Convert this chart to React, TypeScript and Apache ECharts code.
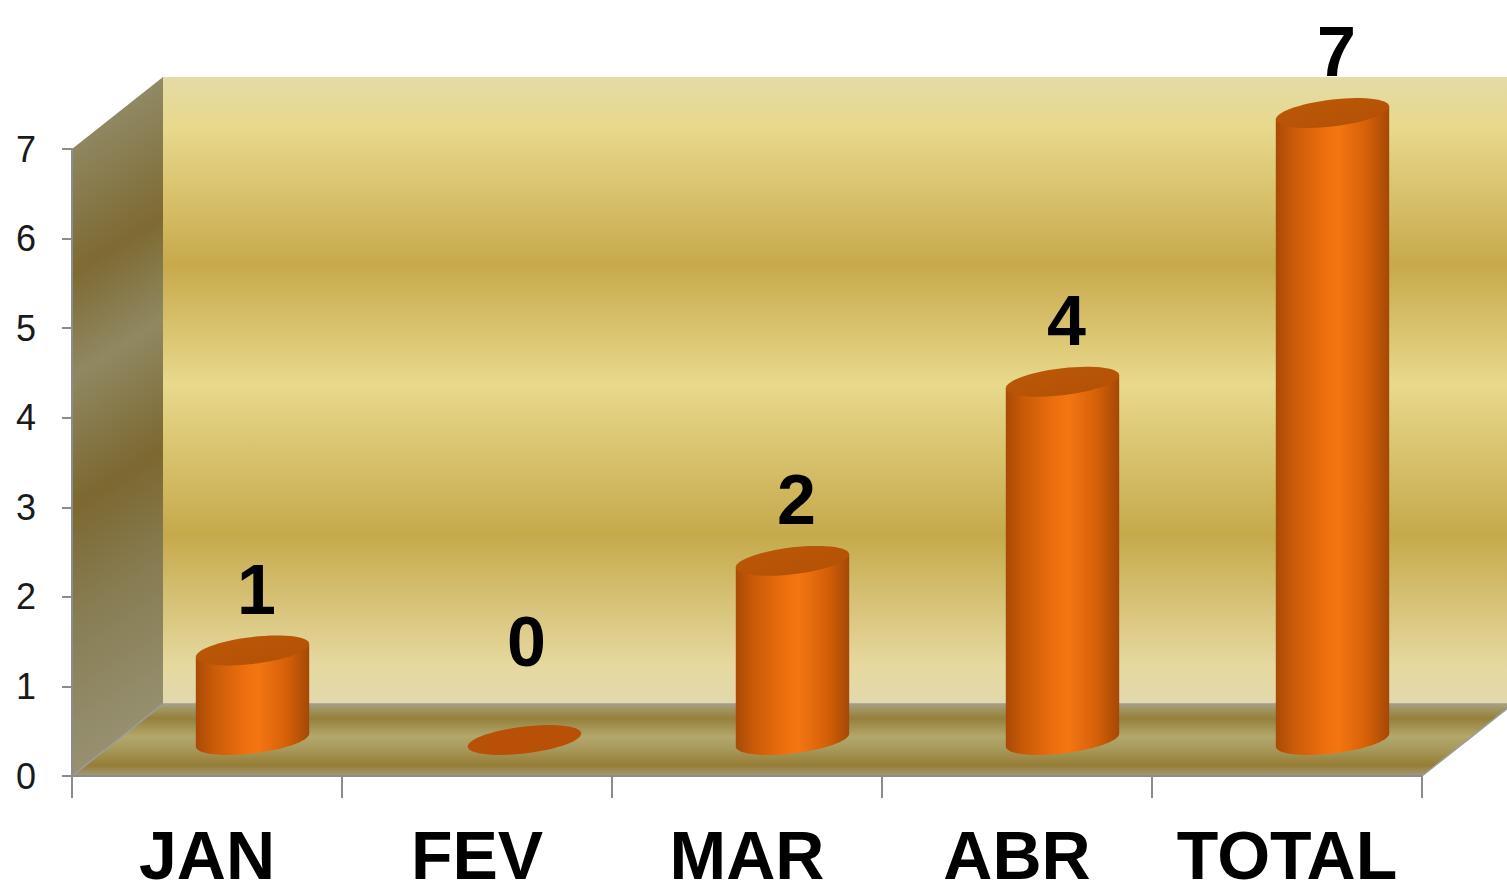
import React, { useEffect, useRef } from "react";
import * as echarts from "echarts";

const categories: string[] = ["JAN", "FEV", "MAR", "ABR", "TOTAL"];
const values: number[] = [1, 0, 2, 4, 7];
const yMin = 0;
const yMax = 7;
const yInterval = 1;

const DX = 91;
const DY = -72;

function ellipsePts(cx: number, cy: number, a: number, b: number, k: number, t0: number, t1: number, n: number) {
  const pts: number[][] = [];
  for (let i = 0; i <= n; i++) {
    const t = t0 + ((t1 - t0) * i) / n;
    const c = Math.cos(t);
    pts.push([cx + a * c, cy + b * Math.sin(t) - k * a * c]);
  }
  return pts;
}

export default function App() {
  const ref = useRef<HTMLDivElement>(null);
  useEffect(() => {
    if (!ref.current) return;
    document.body.style.margin = "0";
    document.body.style.overflow = "hidden";
    const chart = echarts.init(ref.current, undefined, { renderer: "svg" });
    const LG = echarts.graphic.LinearGradient;

    const wallsRender = (params: any, api: any) => {
      const cs = params.coordSys;
      const x0 = cs.x;
      const x1 = cs.x + cs.width;
      const yb = api.coord([0, yMin])[1];
      const yt = api.coord([0, yMax])[1];
      const backGrad = new LG(0, 0, 0, 1, [
        { offset: 0, color: "#e4daa6" },
        { offset: 0.08, color: "#e8d98c" },
        { offset: 0.3, color: "#c8a94c" },
        { offset: 0.49, color: "#e8d98c" },
        { offset: 0.73, color: "#c6a94b" },
        { offset: 0.94, color: "#e6d9a0" },
        { offset: 1, color: "#e2d8ac" },
      ]);
      const sideGrad = {
        type: "linear",
        x: 163,
        y: 75,
        x2: 451,
        y2: 544,
        global: true,
        colorStops: [
          { offset: 0, color: "#918a66" },
          { offset: 0.22, color: "#7e6a32" },
          { offset: 0.38, color: "#908862" },
          { offset: 0.58, color: "#7c6830" },
          { offset: 0.75, color: "#877c52" },
          { offset: 0.95, color: "#948d6c" },
          { offset: 1, color: "#989070" },
        ],
      };
      const floorGrad = new LG(0, 0, 0, 1, [
        { offset: 0, color: "#a9a078" },
        { offset: 0.2, color: "#95803c" },
        { offset: 0.45, color: "#b3a76c" },
        { offset: 0.62, color: "#a89a5c" },
        { offset: 0.85, color: "#967d36" },
        { offset: 1, color: "#a39a78" },
      ]);
      return {
        type: "group",
        children: [
          {
            type: "rect",
            shape: { x: x0 + DX, y: yt + DY, width: x1 - x0, height: yb - yt },
            style: { fill: backGrad },
          },
          {
            type: "polygon",
            shape: { points: [[x0, yt], [x0 + DX, yt + DY], [x0 + DX, yb + DY], [x0, yb]] },
            style: { fill: sideGrad },
          },
          {
            type: "polygon",
            shape: { points: [[x0, yb], [x0 + DX, yb + DY], [x1 + DX, yb + DY], [x1, yb]] },
            style: { fill: floorGrad, stroke: "#9c9c9c", lineWidth: 1.5 },
          },
        ],
      };
    };

    const cylRender = (params: any, api: any) => {
      const idx = api.value(0);
      const v = api.value(1);
      const base = api.coord([idx, yMin]);
      const top = api.coord([idx, v]);
      const band = api.size([1, 0])[0];
      const a = band * 0.21;
      const b = 13.5;
      const k = 0.114;
      const cx = base[0] + DX / 2;
      const by = base[1] + DY / 2;
      const ty = top[1] + DY / 2;
      const floorBack = base[1] + DY;
      const children: any[] = [];
      if (v > 0) {
        const body: number[][] = [];
        body.push([cx - a, ty + k * a]);
        body.push([cx - a, by + k * a]);
        ellipsePts(cx, by, a, b, k, Math.PI, 0, 40).forEach((p) => body.push(p));
        body.push([cx + a, ty - k * a]);
        children.push({
          type: "polygon",
          shape: { points: body },
          style: {
            fill: new LG(0, 0, 1, 0, [
              { offset: 0, color: "#a84a06" },
              { offset: 0.15, color: "#c85a08" },
              { offset: 0.42, color: "#ec6e0e" },
              { offset: 0.55, color: "#f37612" },
              { offset: 0.8, color: "#d66008" },
              { offset: 1, color: "#a44806" },
            ]),
          },
        });
        children.push({
          type: "polygon",
          shape: { points: ellipsePts(cx, ty, a, b, k, 0, Math.PI * 2, 60) },
          style: {
            fill: new LG(0, 0, 1, 1, [
              { offset: 0, color: "#bd5808" },
              { offset: 1, color: "#b25005" },
            ]),
          },
        });
      } else {
        children.push({
          type: "polygon",
          shape: { points: ellipsePts(cx + 2, by, a, b, k, 0, Math.PI * 2, 60) },
          style: { fill: "#b85008" },
        });
      }
      const fs = 70;
      const baseline = Math.min(ty - 36, floorBack - 37);
      children.push({
        type: "text",
        x: cx + 4,
        y: baseline - 0.355 * fs,
        style: {
          text: String(v),
          fontSize: fs,
          fontWeight: "bold",
          fontFamily: "'Liberation Sans', Arial, sans-serif",
          fill: "#000",
          align: "center",
          verticalAlign: "middle",
        },
      });
      return { type: "group", children };
    };

    chart.setOption({
      animation: false,
      grid: { left: 72, right: 85, top: 149, bottom: 120 },
      xAxis: {
        type: "category",
        data: categories,
        boundaryGap: true,
        z: 10,
        axisLine: { lineStyle: { color: "#8c8c8c", width: 2 } },
        axisTick: { show: true, interval: 0, length: 22, lineStyle: { color: "#8c8c8c", width: 2 } },
        axisLabel: {
          interval: 0,
          fontSize: 68,
          lineHeight: 56,
          fontWeight: "bold",
          color: "#000",
          fontFamily: "'Liberation Sans', Arial, sans-serif",
          margin: 51,
        },
      },
      yAxis: {
        type: "value",
        min: yMin,
        max: yMax,
        interval: yInterval,
        z: 10,
        splitLine: { show: false },
        axisLine: { show: true, lineStyle: { color: "#8c8c8c", width: 2 } },
        axisTick: { show: true, length: 10, lineStyle: { color: "#8c8c8c", width: 2 } },
        axisLabel: {
          fontSize: 36,
          color: "#1a1a1a",
          fontFamily: "'Liberation Sans', Arial, sans-serif",
          margin: 36,
        },
      },
      series: [
        {
          type: "custom",
          name: "walls",
          clip: false,
          z: 1,
          silent: true,
          data: [[0, 0]],
          renderItem: wallsRender,
        },
        {
          type: "custom",
          name: "valores",
          clip: false,
          z: 5,
          data: values.map((v, i) => [i, v]),
          encode: { x: 0, y: 1 },
          renderItem: cylRender,
        },
      ],
    });
    return () => chart.dispose();
  }, []);
  return (
    <div
      ref={ref}
      style={{ position: "absolute", left: 0, top: 0, width: 1507, height: 896, background: "#fff" }}
    />
  );
}
